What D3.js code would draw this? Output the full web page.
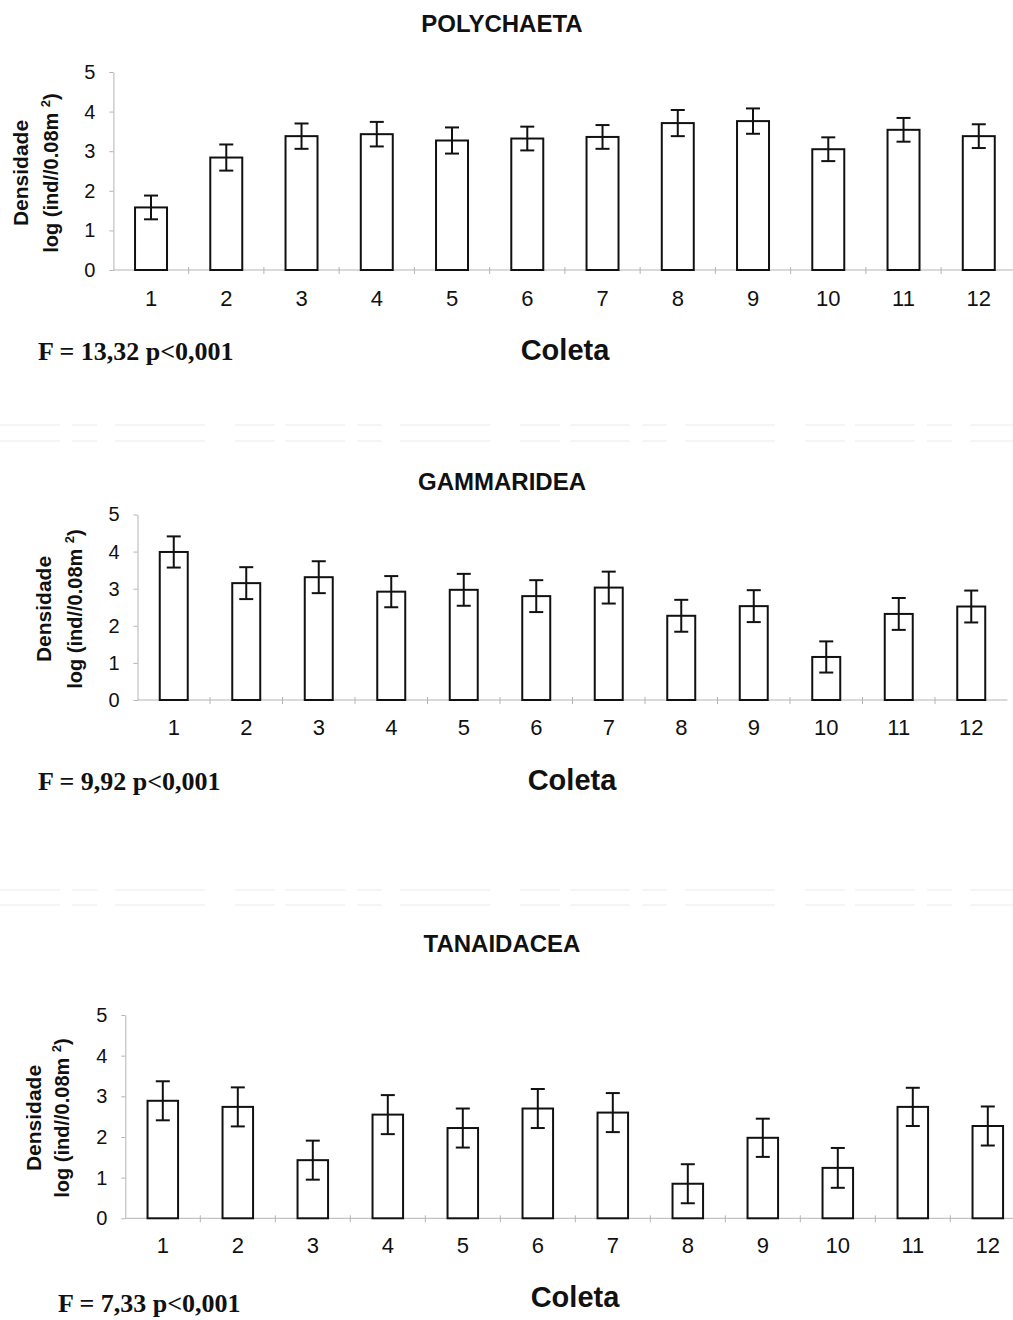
<!DOCTYPE html>
<html lang="pt">
<head>
    <meta charset="UTF-8">
    <title>Densidade por coleta</title>
    <script src="https://d3js.org/d3.v7.min.js"></script>
    <style>
        body { margin: 0; background: #fff; }
        svg { display: block; font-family: "Liberation Sans", Arial, sans-serif; }
        .axis path, .axis line { stroke: #b4b4b4; }
        .axis text { fill: #111; }
    </style>
</head>
<body>
    <svg id="chart" width="1013" height="1320"></svg>

    <script>
        // coletas 1..12
        const categories = ["1", "2", "3", "4", "5", "6", "7", "8", "9", "10", "11", "12"];
        const yTicks = [0, 1, 2, 3, 4, 5];

        // log (ind/0.08m2), media e erro
        const polychaetaMean = [1.58, 2.84, 3.38, 3.43, 3.27, 3.32, 3.36, 3.71, 3.76, 3.05, 3.54, 3.38];
        const polychaetaErr  = [0.30, 0.33, 0.32, 0.31, 0.33, 0.30, 0.30, 0.33, 0.32, 0.30, 0.30, 0.30];

        const gammarideaMean = [3.99, 3.15, 3.31, 2.92, 2.97, 2.80, 3.03, 2.27, 2.53, 1.16, 2.32, 2.52];
        const gammarideaErr  = [0.42, 0.43, 0.43, 0.42, 0.43, 0.43, 0.43, 0.43, 0.43, 0.42, 0.43, 0.43];

        const tanaidaceaMean = [2.89, 2.74, 1.43, 2.55, 2.22, 2.70, 2.60, 0.85, 1.98, 1.24, 2.74, 2.27];
        const tanaidaceaErr  = [0.48, 0.48, 0.48, 0.48, 0.48, 0.48, 0.48, 0.48, 0.47, 0.49, 0.47, 0.48];

        const titles = ["POLYCHAETA", "GAMMARIDEA", "TANAIDACEA"];
        const stats = ["F = 13,32 p<0,001", "F = 9,92 p<0,001", "F = 7,33 p<0,001"];

        const panels = [
            { mean: polychaetaMean, err: polychaetaErr, title: titles[0], stat: stats[0],
              x0: 113.4, step: 75.25, y0: 270, y5: 72, barFrac: 0.425,
              titleY: 32, labY: 173, lab1X: 20, lab2X: 51, tickY: 306,
              statX: 38, statY: 360, coletaX: 565, coletaY: 360 },
            { mean: gammarideaMean, err: gammarideaErr, title: titles[1], stat: stats[1],
              x0: 137.5, step: 72.5, y0: 700, y5: 514.5, barFrac: 0.386,
              titleY: 490, labY: 609, lab1X: 43, lab2X: 75, tickY: 735,
              statX: 38, statY: 790, coletaX: 572, coletaY: 790 },
            { mean: tanaidaceaMean, err: tanaidaceaErr, title: titles[2], stat: stats[2],
              x0: 125.3, step: 75, y0: 1218.3, y5: 1015, barFrac: 0.407,
              titleY: 952, labY: 1118, lab1X: 33, lab2X: 62, tickY: 1253,
              statX: 58, statY: 1312, coletaX: 575, coletaY: 1307 }
        ];

        const svg = d3.select("#chart");

        // faint scan folds
        [425, 441, 890, 905].forEach(yy => {
            svg.append("line")
                .attr("x1", 0).attr("x2", 1013).attr("y1", yy).attr("y2", yy)
                .attr("stroke", "#ebebeb").attr("stroke-width", 1)
                .attr("stroke-dasharray", "60 12 25 18 90 30 40 10");
        });

        panels.forEach(p => {
            const g = svg.append("g");
            const data = categories.map((c, i) => ({ c: c, v: p.mean[i], e: p.err[i] }));

            const x = d3.scaleBand()
                .domain(categories)
                .range([p.x0, p.x0 + p.step * categories.length])
                .padding(0);

            const y = d3.scaleLinear()
                .domain([0, 5])
                .range([p.y0, p.y5]);

            // y axis
            g.append("g")
                .attr("class", "axis")
                .attr("transform", `translate(${p.x0},0)`)
                .call(d3.axisLeft(y).tickValues(yTicks).tickFormat(d3.format("d"))
                    .tickSize(4).tickPadding(14).tickSizeOuter(0))
                .call(a => a.selectAll("text").attr("font-size", 20).attr("font-family", "Liberation Sans, Arial"));

            // x axis line + boundary ticks
            g.append("line")
                .attr("x1", p.x0).attr("x2", p.x0 + p.step * categories.length)
                .attr("y1", y(0)).attr("y2", y(0))
                .attr("stroke", "#b4b4b4");
            g.selectAll(".bt")
                .data(categories.slice(1))
                .enter().append("line")
                .attr("x1", d => x(d)).attr("x2", d => x(d))
                .attr("y1", y(0) - 3).attr("y2", y(0) + 4)
                .attr("stroke", "#b4b4b4");

            g.selectAll(".xl")
                .data(categories)
                .enter().append("text")
                .attr("x", d => x(d) + x.bandwidth() / 2)
                .attr("y", p.tickY)
                .attr("text-anchor", "middle")
                .attr("font-size", 22)
                .attr("fill", "#111")
                .text(d => d);

            const bw = x.bandwidth() * p.barFrac;

            g.selectAll(".bar")
                .data(data)
                .enter().append("rect")
                .attr("x", d => x(d.c) + (x.bandwidth() - bw) / 2)
                .attr("y", d => y(d.v))
                .attr("width", bw)
                .attr("height", d => y(0) - y(d.v))
                .attr("fill", "#fff")
                .attr("stroke", "#111")
                .attr("stroke-width", 2);

            // error bars
            const cap = 7;
            const eb = g.selectAll(".err").data(data).enter().append("g")
                .attr("stroke", "#111").attr("stroke-width", 2);
            eb.append("line")
                .attr("x1", d => x(d.c) + x.bandwidth() / 2).attr("x2", d => x(d.c) + x.bandwidth() / 2)
                .attr("y1", d => y(d.v + d.e)).attr("y2", d => y(d.v - d.e));
            eb.append("line")
                .attr("x1", d => x(d.c) + x.bandwidth() / 2 - cap).attr("x2", d => x(d.c) + x.bandwidth() / 2 + cap)
                .attr("y1", d => y(d.v + d.e)).attr("y2", d => y(d.v + d.e));
            eb.append("line")
                .attr("x1", d => x(d.c) + x.bandwidth() / 2 - cap).attr("x2", d => x(d.c) + x.bandwidth() / 2 + cap)
                .attr("y1", d => y(d.v - d.e)).attr("y2", d => y(d.v - d.e));

            // title
            g.append("text")
                .attr("x", 502).attr("y", p.titleY)
                .attr("text-anchor", "middle")
                .attr("font-size", 24).attr("font-weight", "bold")
                .attr("fill", "#111")
                .text(p.title);

            // y label, two lines
            g.append("text")
                .attr("transform", `translate(${p.lab1X},${p.labY}) rotate(-90)`)
                .attr("text-anchor", "middle").attr("dy", "0.36em")
                .attr("font-size", 21).attr("font-weight", "bold").attr("fill", "#111")
                .text("Densidade");
            const l2 = g.append("text")
                .attr("transform", `translate(${p.lab2X},${p.labY}) rotate(-90)`)
                .attr("text-anchor", "middle").attr("dy", "0.36em")
                .attr("font-size", 20).attr("font-weight", "bold").attr("fill", "#111");
            l2.append("tspan").text("log (ind//0.08m ");
            l2.append("tspan").attr("font-size", 13).attr("dy", "-0.6em").text("2");
            l2.append("tspan").attr("dy", "0.4em").text(")");

            // x label
            g.append("text")
                .attr("x", p.coletaX).attr("y", p.coletaY)
                .attr("text-anchor", "middle")
                .attr("font-size", 29).attr("font-weight", "bold").attr("fill", "#111")
                .text("Coleta");

            // stat
            g.append("text")
                .attr("x", p.statX).attr("y", p.statY)
                .attr("font-family", "Liberation Serif, Times New Roman, serif")
                .attr("font-size", 26).attr("font-weight", "bold").attr("fill", "#111")
                .text(p.stat);
        });
    </script>
</body>
</html>
